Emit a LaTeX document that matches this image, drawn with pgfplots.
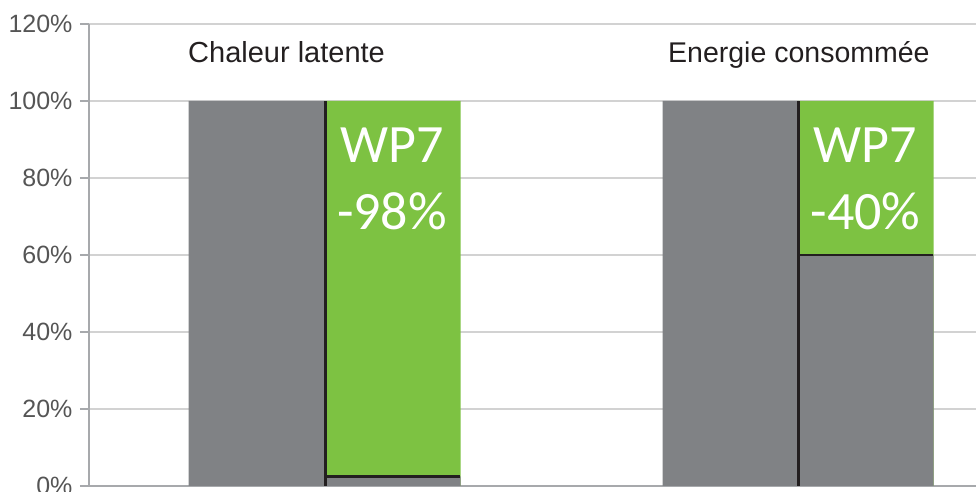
\documentclass[border=0pt]{standalone}
\usepackage{fontspec}
\setmainfont{Liberation Sans}
\newfontfamily\carlito{Carlito}
\usepackage{pgfplots}
\pgfplotsset{compat=1.18}
\definecolor{bargray}{HTML}{808285}
\definecolor{bargreen}{HTML}{7DC242}
\definecolor{dark}{HTML}{231F20}
\definecolor{gridgray}{HTML}{D2D2D2}
\definecolor{axisgray}{HTML}{A7A9AC}
\definecolor{ticktext}{HTML}{555555}
\definecolor{titletext}{HTML}{231F20}
\begin{document}
\begin{tikzpicture}
\useasboundingbox (0,0) rectangle (976pt,492pt);
\begin{axis}[
  at={(89pt,6pt)}, anchor=south west,
  scale only axis, width=887pt, height=462pt,
  xmin=89, xmax=976, ymin=0, ymax=120,
  axis lines=left,
  axis line style={-, draw=axisgray, line width=2.5pt},
  xtick=\empty,
  ytick={0,20,40,60,80,100,120},
  yticklabel={\pgfmathprintnumber{\tick}\%},
  /pgf/number format/assume math mode=true,
  yticklabel style={font=\fontsize{25}{29}\selectfont, text=ticktext, xshift=-4pt},
  tick align=outside,
  major tick length=9pt,
  tick style={draw=axisgray, line width=2pt},
  ymajorgrids,
  grid style={draw=gridgray, line width=2pt},
  clip=false,
]
% green portions (drawn first)
\addplot[ybar, bar width=136, bar shift=0, fill=bargreen, draw=none]
  coordinates {(392.5,100) (865.5,100)};
% gray portions
\addplot[ybar, bar width=136, bar shift=0, fill=bargray, draw=none]
  coordinates {(256.5,100) (392.5,2.5) (730.5,100) (865.5,60)};
% separator lines
\addplot[draw=dark, line width=3pt, no marks] coordinates {(325,0) (325,100)};
\addplot[draw=dark, line width=3pt, no marks] coordinates {(325,2.5) (460,2.5)};
\addplot[draw=dark, line width=3pt, no marks] coordinates {(798,0) (798,100)};
\addplot[draw=dark, line width=2pt, no marks] coordinates {(798,60) (933,60)};
% titles
\node[anchor=base west, inner sep=0, text=titletext, font=\fontsize{29}{33}\selectfont] at (axis cs:188,110) {Chaleur latente};
\node[anchor=base west, inner sep=0, text=titletext, font=\fontsize{28.5}{33}\selectfont] at (axis cs:668,110) {Energie consommée};
% labels
\node[anchor=base, inner sep=0, text=white, font=\carlito\fontsize{54}{60}\selectfont] at (axis cs:392,84) {WP7};
\node[anchor=base, inner sep=0, text=white, font=\carlito\fontsize{54}{60}\selectfont] at (axis cs:392,66.5) {-98\%};
\node[anchor=base, inner sep=0, text=white, font=\carlito\fontsize{54}{60}\selectfont] at (axis cs:865.5,84) {WP7};
\node[anchor=base, inner sep=0, text=white, font=\carlito\fontsize{54}{60}\selectfont] at (axis cs:865.5,66.5) {-40\%};
\end{axis}
\end{tikzpicture}
\end{document}
